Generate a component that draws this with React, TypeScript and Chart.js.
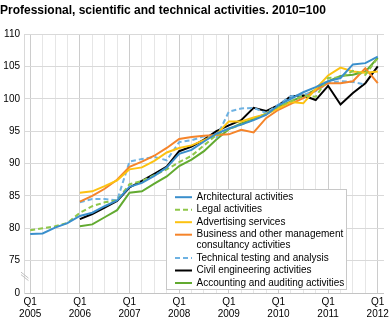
import React, { useEffect, useRef } from 'react';
import { Chart, registerables } from 'chart.js';

Chart.register(...registerables);

const TITLE = 'Professional, scientific and technical activities. 2010=100';
const FONT = '"Liberation Sans", Arial, sans-serif';

const categories = [
  '2005Q1', '2005Q2', '2005Q3', '2005Q4',
  '2006Q1', '2006Q2', '2006Q3', '2006Q4',
  '2007Q1', '2007Q2', '2007Q3', '2007Q4',
  '2008Q1', '2008Q2', '2008Q3', '2008Q4',
  '2009Q1', '2009Q2', '2009Q3', '2009Q4',
  '2010Q1', '2010Q2', '2010Q3', '2010Q4',
  '2011Q1', '2011Q2', '2011Q3', '2011Q4',
  '2012Q1',
];

const yTicks = [70, 75, 80, 85, 90, 95, 100, 105, 110];
const yTickLabels = ['0', '75', '80', '85', '90', '95', '100', '105', '110'];

const architectural = [79.1, 79.2, 80.1, 80.8, 81.9, 82.4, 83.4, 84.3, 86.4, 87.0, 88.1, 89.4, 91.5, 92.1, 93.4, 94.6, 95.4, 96.0, 96.7, 97.5, 99.0, 100.0, 101.0, 101.8, 102.7, 103.2, 105.3, 105.5, 106.5];
const legal = [79.7, 80.0, 80.3, 80.8, 82.4, 83.4, 84.0, 84.3, 86.8, 87.3, 88.2, 89.1, 90.2, 91.2, 92.8, 94.4, 95.3, 96.0, 96.8, 97.6, 98.8, 99.6, 100.5, 100.3, 103.2, 103.3, 104.3, 103.7, 106.3];
const advertising = [null, null, null, null, 85.5, 85.7, 86.5, 87.4, 89.1, 89.4, 90.4, 91.7, 92.4, 92.8, 93.6, 94.5, 96.5, 96.5, 97.1, 97.6, 98.5, 99.5, 99.3, 101.5, 103.6, 104.8, 104.2, 104.0, 104.2];
const business = [null, null, null, null, 84.1, 85.0, 86.1, 87.5, 89.5, 90.3, 91.2, 92.4, 93.8, 94.1, 94.3, 94.4, 94.5, 95.2, 94.8, 97.0, 98.3, 99.2, 100.1, 101.3, 102.4, 102.4, 102.7, 104.7, 102.4];
const technical = [null, null, null, null, 84.0, 84.5, 84.5, 84.3, 90.3, 90.7, 91.0, 90.5, 93.3, 93.6, 94.2, 94.0, 98.0, 98.5, 98.6, 97.8, 99.1, 100.4, 100.6, 101.2, 102.4, 102.7, 102.6, 102.2, null];
const civil = [null, null, null, null, 81.4, 82.2, 83.2, 84.2, 86.3, 87.3, 88.4, 89.5, 91.9, 92.6, 93.7, 95.0, 95.9, 96.7, 98.6, 98.1, 99.0, 100.4, 100.5, 99.8, 102.0, 99.1, 100.9, 102.4, 105.0];
const accounting = [null, null, null, null, 80.3, 80.6, 81.7, 82.8, 85.5, 85.7, 86.9, 88.0, 89.6, 90.6, 91.9, 93.7, 95.3, 96.2, 96.9, 97.7, 98.7, 99.6, 100.4, 101.4, 102.7, 103.5, 103.7, 104.2, 106.3];

const seriesLabels = [
  ['Architectural activities'],
  ['Legal activities'],
  ['Advertising services'],
  ['Business and other management', 'consultancy activities'],
  ['Technical testing and analysis'],
  ['Civil engineering activities'],
  ['Accounting and auditing activities'],
];
const seriesColors = ['#3a8fcc', '#8fc74a', '#fcc211', '#f5842a', '#6eb2e2', '#000000', '#62aa30'];
const seriesDashes = [[], [5, 3], [], [], [5, 3], [], []];
const seriesValues = [architectural, legal, advertising, business, technical, civil, accounting];

const legendPlugin = {
  id: 'boxLegend',
  afterDraw(chart: any) {
    const { ctx, chartArea } = chart;
    const left = chartArea.left + 142.5;
    const top = chartArea.bottom - 103.5;
    const width = 180;
    const height = 100;
    ctx.save();
    ctx.fillStyle = '#ffffff';
    ctx.fillRect(left, top, width, height);
    ctx.strokeStyle = '#c8c8c8';
    ctx.lineWidth = 1;
    ctx.strokeRect(left, top, width, height);
    ctx.font = `10px ${FONT}`;
    ctx.textBaseline = 'middle';
    ctx.textAlign = 'left';
    let y = top + 7.7;
    chart.data.datasets.forEach((ds: any) => {
      const lines: string[] = ds.legendLines;
      ctx.strokeStyle = ds.borderColor;
      ctx.lineWidth = 2;
      ctx.setLineDash(ds.borderDash || []);
      ctx.beginPath();
      ctx.moveTo(left + 8.5, y);
      ctx.lineTo(left + 25.5, y);
      ctx.stroke();
      ctx.setLineDash([]);
      ctx.fillStyle = '#000000';
      lines.forEach((ln, i) => {
        ctx.fillText(ln, left + 30, y + i * 10.8);
      });
      y += lines.length * 10.8 + 1.7;
    });
    ctx.restore();
  },
};

const breakPlugin = {
  id: 'axisBreak',
  afterDraw(chart: any) {
    const { ctx, chartArea, scales } = chart;
    const y75 = scales.y.getPixelForValue(75);
    const x = chartArea.left;
    ctx.save();
    ctx.strokeStyle = '#c0c0c0';
    ctx.lineWidth = 1;
    for (const d of [0, 2.5]) {
      ctx.beginPath();
      ctx.moveTo(x - 3, y75 + 11.5 + d);
      ctx.lineTo(x + 4.5, y75 + 17.5 + d);
      ctx.stroke();
    }
    ctx.restore();
  },
};

export default function App() {
  const ref = useRef<HTMLCanvasElement | null>(null);

  useEffect(() => {
    if (!ref.current) return;
    const chart = new Chart(ref.current, {
      type: 'line',
      data: {
        labels: categories,
        datasets: seriesValues.map((vals, i) => ({
          label: seriesLabels[i].join(' '),
          legendLines: seriesLabels[i],
          data: vals,
          borderColor: seriesColors[i],
          backgroundColor: seriesColors[i],
          borderDash: seriesDashes[i],
          borderWidth: 2,
          pointRadius: 0,
          pointHoverRadius: 0,
          tension: 0,
          fill: false,
          spanGaps: false,
        })) as any,
      },
      options: {
        animation: false,
        responsive: true,
        maintainAspectRatio: false,
        layout: { padding: { left: 0, right: 7.5, top: 0, bottom: 0 } },
        plugins: {
          legend: { display: false },
          tooltip: { enabled: false },
          title: {
            display: true,
            text: TITLE,
            align: 'start',
            color: '#000000',
            font: { family: FONT, size: 12, weight: 'bold' },
            padding: { top: 3, bottom: 16.6 },
          },
        },
        scales: {
          x: {
            type: 'category',
            offset: true,
            afterFit: (s: any) => {
              s.height = 28;
            },
            grid: {
              offset: false,
              drawTicks: false,
              color: (c: any) => (c.index % 4 === 0 ? '#cccccc' : '#e6e6e6'),
            },
            border: { color: '#c4c4c4' },
            ticks: {
              autoSkip: false,
              maxRotation: 0,
              minRotation: 0,
              padding: 3,
              color: '#000000',
              font: { family: FONT, size: 10, lineHeight: 1.2 },
              callback: (_v: any, i: number) =>
                i % 4 === 0 ? ['Q1', categories[i].slice(0, 4)] : '',
            },
          },
          y: {
            min: 70,
            max: 110,
            afterFit: (s: any) => {
              s.width = 24;
            },
            afterBuildTicks: (s: any) => {
              s.ticks = yTicks.map((v) => ({ value: v }));
            },
            grid: { drawTicks: false, color: '#d9d9d9' },
            border: { color: '#d9d9d9' },
            ticks: {
              padding: 4,
              color: '#000000',
              font: { family: FONT, size: 10 },
              callback: (v: any) => {
                const k = yTicks.indexOf(Number(v));
                return k >= 0 ? yTickLabels[k] : '';
              },
            },
          },
        },
      },
      plugins: [legendPlugin, breakPlugin],
    });
    return () => chart.destroy();
  }, []);

  return (
    <div style={{ position: 'fixed', left: 0, top: 0, width: 392, height: 321, background: '#fff' }}>
      <canvas ref={ref} />
    </div>
  );
}
